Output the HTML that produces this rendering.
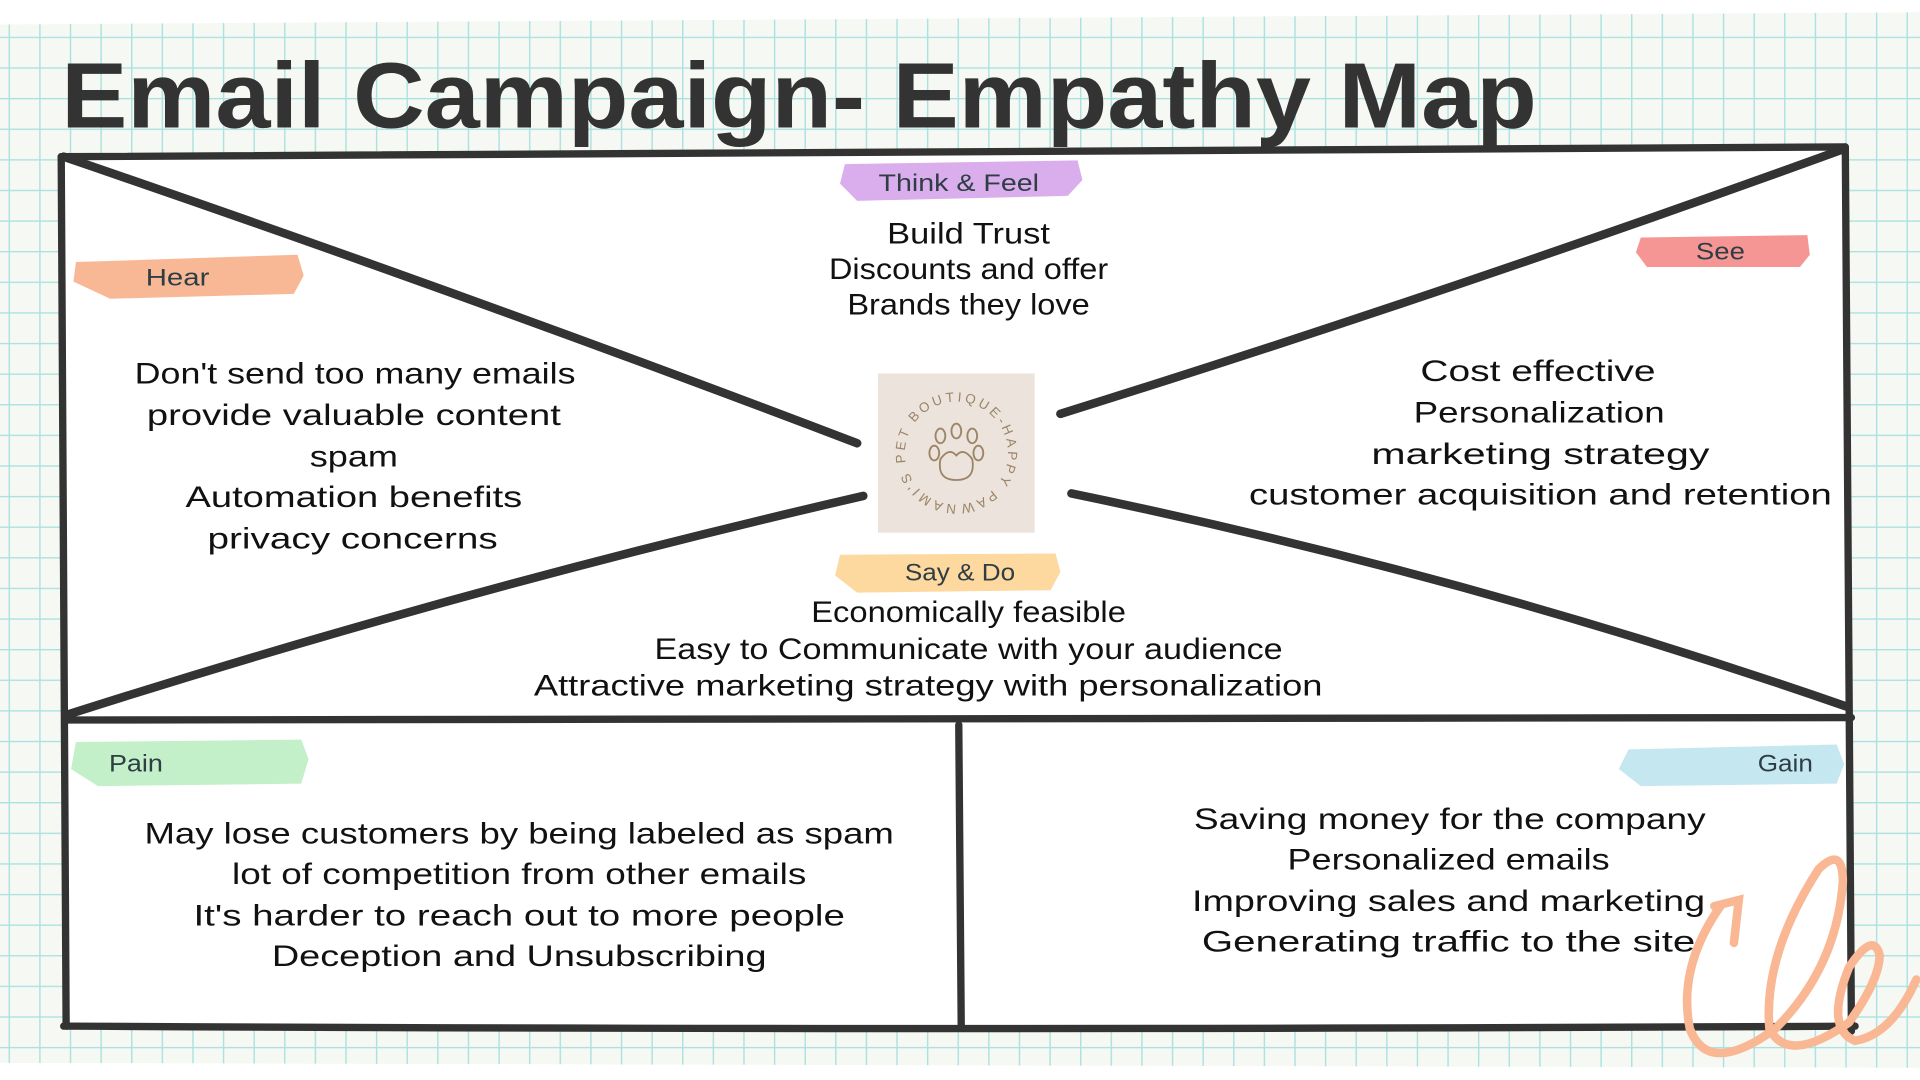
<!DOCTYPE html>
<html><head><meta charset="utf-8"><style>
html,body{margin:0;padding:0;width:1920px;height:1080px;overflow:hidden;background:#fff}
svg{display:block}
text{font-family:"Liberation Sans",sans-serif;fill:#111}
</style></head><body>
<svg width="1920" height="1080" viewBox="0 0 1568 882" xmlns="http://www.w3.org/2000/svg">
<defs>
<pattern id="g" width="25" height="25" patternUnits="userSpaceOnUse" x="7" y="5">
<rect width="25" height="25" fill="#f6f8f4"/>
<path d="M0 0.5H25M0.5 0V25" stroke="#a9e2e0" stroke-width="1.3"/>
</pattern>
<path id="circ" d="M781 412 A42 42 0 1 1 781.1 412"/>
</defs>
<rect x="0" y="0" width="1568" height="882" fill="#fff"/>
<polygon points="0,20 1568,10 1568,872 0,868" fill="url(#g)"/>
<text x="50" y="104" font-size="76" font-weight="bold" textLength="1205" lengthAdjust="spacingAndGlyphs" style="fill:#333">Email Campaign- Empathy Map</text>
<!-- box -->
<polygon points="50,127 1507,120 1512,840 52,838" fill="#fff"/>
<g stroke="#333" stroke-width="6" fill="none" stroke-linecap="round">
<path d="M50 128 Q780 123 1507 120"/>
<path d="M50 128 L54 838"/>
<path d="M1507 120 L1512 842"/>
<path d="M52 838 Q780 842 1515 838"/>
<path d="M55 588 Q780 590 1512 586"/>
<path d="M783 592 L785 838"/>
<path d="M52 128 Q380 240 700 362" stroke-width="7"/>
<path d="M57 583 Q380 480 705 405" stroke-width="7"/>
<path d="M1505 122 Q1180 240 866 338" stroke-width="7"/>
<path d="M875 403 Q1200 470 1508 577" stroke-width="7"/>
</g>
<!-- brush labels -->
<g opacity="0.9">
<path d="M690 134 L880 131 L884 147 L872 160 L700 164 L686 150 Z" fill="#d6a5ea"/>
<path d="M62 214 L243 208 L248 225 L240 240 L90 244 L60 230 Z" fill="#f8b08a"/>
<path d="M1340 194 L1476 192 L1478 208 L1470 218 L1345 218 L1336 206 Z" fill="#f58b88"/>
<path d="M686 453 L862 452 L866 467 L858 482 L700 484 L682 470 Z" fill="#fdd596"/>
<path d="M62 606 L246 604 L252 620 L246 640 L80 642 L58 628 Z" fill="#bcedc3"/>
<path d="M1330 612 L1500 608 L1506 624 L1500 640 L1340 642 L1322 628 Z" fill="#bfe4ee"/>
</g>
<g font-size="20" text-anchor="middle" lengthAdjust="spacingAndGlyphs">
<text x="783" y="156" textLength="131" lengthAdjust="spacingAndGlyphs" style="fill:#2e3e44">Think &amp; Feel</text>
<text x="145" y="233" textLength="52" lengthAdjust="spacingAndGlyphs" style="fill:#2e3e44">Hear</text>
<text x="1405" y="212" textLength="40" lengthAdjust="spacingAndGlyphs" style="fill:#2e3e44">See</text>
<text x="784" y="474" textLength="90" lengthAdjust="spacingAndGlyphs" style="fill:#2e3e44">Say &amp; Do</text>
<text x="111" y="630" textLength="44" lengthAdjust="spacingAndGlyphs" style="fill:#2e3e44">Pain</text>
<text x="1458" y="630" textLength="45" lengthAdjust="spacingAndGlyphs" style="fill:#2e3e44">Gain</text>
</g>
<!-- logo -->
<rect x="717" y="305" width="128" height="130" fill="#ebe3dc"/>
<text font-size="11" letter-spacing="2.5" style="fill:#9c8566"><textPath href="#circ">NAMI'S PET BOUTIQUE-HAPPY PAWS-</textPath></text>
<g fill="none" stroke="#9c8566" stroke-width="1.5">
<ellipse cx="768" cy="356" rx="4" ry="6"/><ellipse cx="781" cy="352" rx="4" ry="6"/><ellipse cx="794" cy="356" rx="4" ry="6"/>
<ellipse cx="763" cy="370" rx="4" ry="6"/><ellipse cx="799" cy="370" rx="4" ry="6"/>
<path d="M781 392 Q765 392 768 375 Q775 365 781 372 Q787 365 794 375 Q797 392 781 392Z"/>
</g>
<!-- body text -->
<g font-size="24" text-anchor="middle">
<text x="791" y="199" textLength="133" lengthAdjust="spacingAndGlyphs">Build Trust</text>
<text x="791" y="228" textLength="228" lengthAdjust="spacingAndGlyphs">Discounts and offer</text>
<text x="791" y="257" textLength="198" lengthAdjust="spacingAndGlyphs">Brands they love</text>
<text x="290" y="313" textLength="360" lengthAdjust="spacingAndGlyphs">Don't send too many emails</text>
<text x="289" y="347" textLength="338" lengthAdjust="spacingAndGlyphs">provide valuable content</text>
<text x="289" y="381" textLength="72" lengthAdjust="spacingAndGlyphs">spam</text>
<text x="289" y="414" textLength="275" lengthAdjust="spacingAndGlyphs">Automation benefits</text>
<text x="288" y="448" textLength="237" lengthAdjust="spacingAndGlyphs">privacy concerns</text>
<text x="1256" y="311" textLength="192" lengthAdjust="spacingAndGlyphs">Cost effective</text>
<text x="1257" y="345" textLength="205" lengthAdjust="spacingAndGlyphs">Personalization</text>
<text x="1258" y="379" textLength="276" lengthAdjust="spacingAndGlyphs">marketing strategy</text>
<text x="1258" y="412" textLength="476" lengthAdjust="spacingAndGlyphs">customer acquisition and retention</text>
<text x="791" y="508" textLength="257" lengthAdjust="spacingAndGlyphs">Economically feasible</text>
<text x="791" y="538" textLength="513" lengthAdjust="spacingAndGlyphs">Easy to Communicate with your audience</text>
<text x="758" y="568" textLength="644" lengthAdjust="spacingAndGlyphs">Attractive marketing strategy with personalization</text>
<text x="424" y="689" textLength="612" lengthAdjust="spacingAndGlyphs">May lose customers by being labeled as spam</text>
<text x="424" y="722" textLength="469" lengthAdjust="spacingAndGlyphs">lot of competition from other emails</text>
<text x="424" y="756" textLength="532" lengthAdjust="spacingAndGlyphs">It's harder to reach out to more people</text>
<text x="424" y="789" textLength="404" lengthAdjust="spacingAndGlyphs">Deception and Unsubscribing</text>
<text x="1184" y="677" textLength="418" lengthAdjust="spacingAndGlyphs">Saving money for the company</text>
<text x="1183" y="710" textLength="263" lengthAdjust="spacingAndGlyphs">Personalized emails</text>
<text x="1183" y="744" textLength="419" lengthAdjust="spacingAndGlyphs">Improving sales and marketing</text>
<text x="1183" y="777" textLength="403" lengthAdjust="spacingAndGlyphs">Generating traffic to the site</text>
</g>
<!-- decorative swirl -->
<g fill="none" stroke="#f9b794" stroke-width="7" stroke-linecap="round">
<path d="M1405 740 Q1370 790 1380 840 Q1395 880 1450 840 Q1500 790 1505 720 Q1505 690 1485 710 Q1440 780 1445 840 Q1460 870 1510 835 Q1535 800 1535 780 Q1530 760 1510 790 Q1490 840 1515 850 Q1545 845 1565 800"/>
<path d="M1400 740 L1420 735 L1416 770"/>
</g>
</svg>
</body></html>
